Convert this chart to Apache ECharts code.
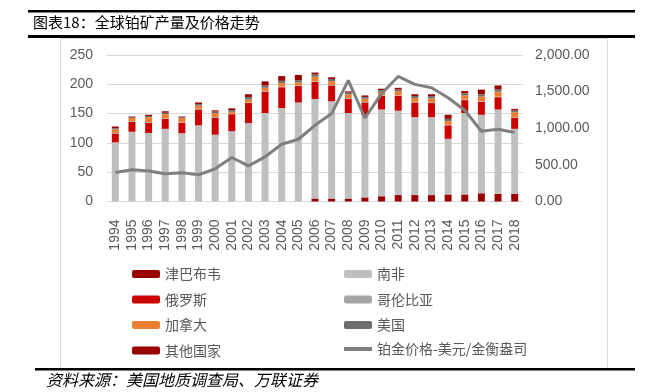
<!DOCTYPE html>
<html><head><meta charset="utf-8">
<script src="https://cdn.jsdelivr.net/npm/echarts@6/dist/echarts.min.js"></script>
<style>html,body{margin:0;padding:0;background:#fff}#c{width:663px;height:392px}</style>
</head><body><div id="c"></div>
<script>
const years = ['1994','1995','1996','1997','1998','1999','2000','2001','2002','2003','2004','2005','2006','2007','2008','2009','2010','2011','2012','2013','2014','2015','2016','2017','2018'];
const zimbabwe = [0,0,0,0,0,0,0,0,0,0,0,0,5,5,5,7,9,11,11,11,12,12,14,13,13];
const southAfrica = [101,119,117,124,116.5,130,114,120,134,151,159.5,169,170,166,146,141,148,144,133,133,95,139,134,144,111];
const russia = [15,17,17,17,17.5,27,29,29,34,36,35.5,28,29,27,24,21,23,25,25,24,23,22,22,21,18.5];
const colombia = [1,1,1,1,1,1,1,1,1,1,1,1,1,1,1,1,1,1,1,1,1,1,1,1,1];
const canada = [6,5.5,9,7,7.5,5.5,7,3,5,6,6,5,8,6.5,7,5.5,6,7,6.5,7,6.5,7,8,8.5,9];
const usa = [2,1.5,2,2.5,1.5,2.5,2.5,3,4,4,4,4,4,3.5,3,3,3,3,3.5,3.5,3.5,3.5,4,4,3];
const others = [3,1,2,2.5,1,3,2,3,5,7,8,9,3,3,2,2.5,2.5,3,3,3.5,7,4,8,6.5,2.5];
const price = [397,433,415,378,392,365,446,601,487,610,782,850,1040,1200,1653,1140,1472,1707,1599,1553,1417,1245,959,986,941];

const names = ['津巴布韦','南非','俄罗斯','哥伦比亚','加拿大','美国','其他国家','铂金价格-美元/金衡盎司'];
const colors = ['#9B0000','#BFBFBF','#CC0000','#A5A5A5','#ED7D31','#6E6E6E','#9B0000','#7F7F7F'];
const barData = [zimbabwe, southAfrica, russia, colombia, canada, usa, others];

const chart = echarts.init(document.getElementById('c'));
const font = '"Noto Sans CJK SC", sans-serif';
const series = barData.map((d,i)=>({
  name: names[i], type:'bar', stack:'total', data:d, barWidth:'42%',
  itemStyle:{color:colors[i]}, yAxisIndex:0
}));
series.push({
  name: names[7], type:'line', data: price, yAxisIndex:1, symbol:'none',
  lineStyle:{color:colors[7], width:3}, itemStyle:{color:colors[7]}, z:5
});
const legendText = {color:'#595959', fontSize:14, fontFamily:font, lineHeight:16};
chart.setOption({
  animation:false,
  grid:{left:107, right:140, top:55, bottom:190.5},
  xAxis:{type:'category', data:years,
    axisLine:{lineStyle:{color:'#D9D9D9'}}, axisTick:{show:false},
    axisLabel:{rotate:90, color:'#595959', fontSize:14, fontFamily:'Arial', margin:18, interval:0}},
  yAxis:[
    {type:'value', min:0, max:250, interval:50,
     axisLine:{show:false}, axisTick:{show:false},
     splitLine:{lineStyle:{color:'#D9D9D9'}},
     axisLabel:{color:'#595959', fontSize:14, fontFamily:'Arial', margin:14}},
    {type:'value', min:0, max:2000, interval:500,
     axisLine:{show:false}, axisTick:{show:false}, splitLine:{show:false},
     axisLabel:{color:'#595959', fontSize:14, fontFamily:'Arial', margin:12,
       formatter:v=>v.toLocaleString('en-US',{minimumFractionDigits:2,maximumFractionDigits:2})}}
  ],
  legend:[
    {left:127, top:261, orient:'vertical', itemWidth:28, itemHeight:8, itemGap:9.5,
     data:[names[0],names[2],names[4],names[6]], textStyle:legendText, selectedMode:false},
    {left:339, top:261, orient:'vertical', itemWidth:28, itemHeight:8, itemGap:9.5,
     data:[names[1],names[3],names[5]], textStyle:legendText, selectedMode:false},
    {left:339, top:336, orient:'vertical', itemWidth:28, itemHeight:4, icon:'rect',
     data:[names[7]], textStyle:legendText, selectedMode:false}
  ],
  graphic:[
    {type:'rect', shape:{x:60.5,y:38.5,width:547,height:330}, style:{fill:'none', stroke:'#D9D9D9', lineWidth:1}, silent:true},
    {type:'rect', shape:{x:28,y:10,width:607,height:2.5}, style:{fill:'#000'}},
    {type:'rect', shape:{x:28,y:35,width:607,height:3}, style:{fill:'#000'}},
    {type:'rect', shape:{x:35,y:368,width:600,height:2.5}, style:{fill:'#000'}},
    {type:'text', left:33, top:15, style:{text:'图表18：全球铂矿产量及价格走势', fill:'#000', font:'15px "Noto Sans CJK SC"'}},
    {type:'text', left:46, top:372, style:{text:'资料来源：美国地质调查局、万联证券', fill:'#000', font:'italic 16px "Noto Sans CJK SC"'}}
  ],
  series: series
});
</script></body></html>
